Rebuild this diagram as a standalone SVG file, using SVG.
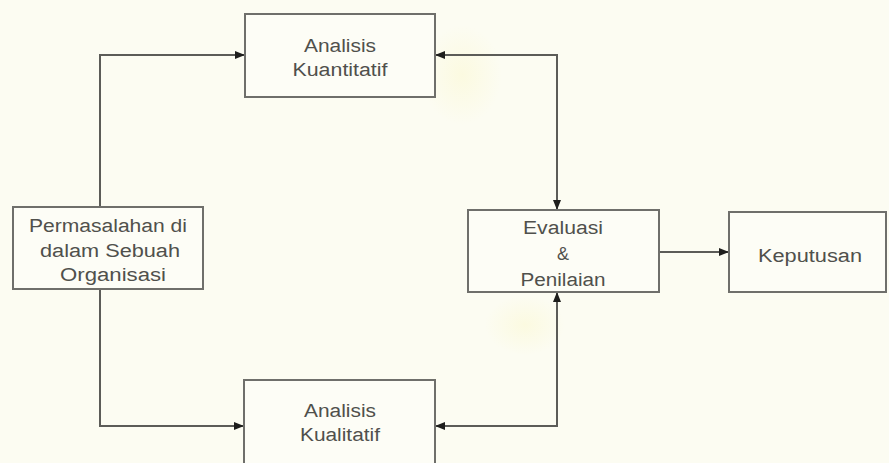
<svg xmlns="http://www.w3.org/2000/svg" width="889" height="463" viewBox="0 0 889 463">
  <defs>
    <style>
      .box { fill: #fdfdf6; stroke: #6f6f6b; stroke-width: 2; }
      .lbl { font-family: "Liberation Sans", Arial, sans-serif; font-size: 18px; fill: #50504c; text-anchor: middle; }
      .wire { fill: none; stroke: #5c5c58; stroke-width: 2; }
    </style>
    <marker id="arrow" viewBox="0 0 10 8" refX="10" refY="4" markerWidth="10" markerHeight="8" markerUnits="userSpaceOnUse" orient="auto-start-reverse">
      <path d="M0,0 L10,4 L0,8 Z" fill="#1e1e1c"/>
    </marker>
    <radialGradient id="glow1" cx="0.5" cy="0.5" r="0.5">
      <stop offset="0" stop-color="#fbf8d2" stop-opacity="0.55"/>
      <stop offset="1" stop-color="#fbf8d2" stop-opacity="0"/>
    </radialGradient>
  </defs>

  <!-- paper background -->
  <rect x="0" y="0" width="889" height="463" fill="#fcfcf2"/>
  <ellipse cx="462" cy="75" rx="40" ry="50" fill="url(#glow1)"/>
  <ellipse cx="525" cy="325" rx="40" ry="30" fill="url(#glow1)"/>

  <!-- connectors -->
  <g id="connectors">
    <path class="wire" d="M100,207 V55 H245" marker-end="url(#arrow)"/>
    <path class="wire" d="M100,289 V426 H244" marker-end="url(#arrow)"/>
    <path class="wire" d="M435,55 H557 V210" marker-start="url(#arrow)" marker-end="url(#arrow)"/>
    <path class="wire" d="M435,426 H557 V292" marker-start="url(#arrow)" marker-end="url(#arrow)"/>
    <path class="wire" d="M659,252 H729" marker-end="url(#arrow)"/>
  </g>

  <!-- nodes -->
  <g id="permasalahan">
    <rect class="box" x="13" y="207" width="190" height="82"/>
    <text class="lbl" x="108" y="232" textLength="158" lengthAdjust="spacingAndGlyphs">Permasalahan di</text>
    <text class="lbl" x="110" y="257" textLength="140" lengthAdjust="spacingAndGlyphs">dalam Sebuah</text>
    <text class="lbl" x="113" y="281" textLength="106" lengthAdjust="spacingAndGlyphs">Organisasi</text>
  </g>

  <g id="kuantitatif">
    <rect class="box" x="245" y="14" width="190" height="83"/>
    <text class="lbl" x="340" y="52" textLength="72" lengthAdjust="spacingAndGlyphs">Analisis</text>
    <text class="lbl" x="340" y="76" textLength="95" lengthAdjust="spacingAndGlyphs">Kuantitatif</text>
  </g>

  <g id="kualitatif">
    <rect class="box" x="244" y="380" width="191" height="95"/>
    <text class="lbl" x="340" y="417" textLength="72" lengthAdjust="spacingAndGlyphs">Analisis</text>
    <text class="lbl" x="340" y="441" textLength="80" lengthAdjust="spacingAndGlyphs">Kualitatif</text>
  </g>

  <g id="evaluasi">
    <rect class="box" x="468" y="210" width="191" height="82"/>
    <text class="lbl" x="563" y="234" textLength="80" lengthAdjust="spacingAndGlyphs">Evaluasi</text>
    <text class="lbl" x="563" y="260">&amp;</text>
    <text class="lbl" x="563" y="286" textLength="85" lengthAdjust="spacingAndGlyphs">Penilaian</text>
  </g>

  <g id="keputusan">
    <rect class="box" x="729" y="212" width="157" height="80"/>
    <text class="lbl" x="810" y="262" textLength="104" lengthAdjust="spacingAndGlyphs">Keputusan</text>
  </g>
</svg>
